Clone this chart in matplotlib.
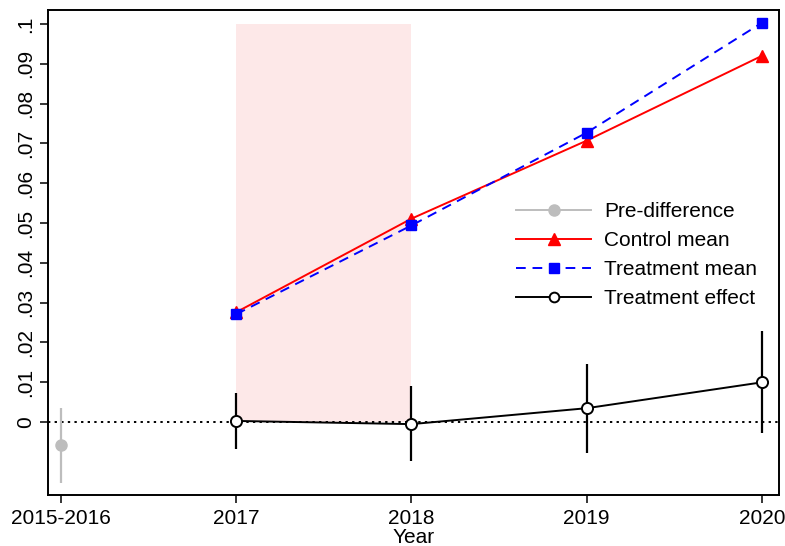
import matplotlib
matplotlib.use("Agg")
import matplotlib.pyplot as plt
from matplotlib.lines import Line2D

plt.rcParams['font.family'] = ['Liberation Sans', 'DejaVu Sans']

# Categories on the x axis
years = ["2015-2016", "2017", "2018", "2019", "2020"]

# Pre-period difference with confidence interval
pre_diff = [-0.0058]
pre_lo = [-0.0153]
pre_hi = [0.0035]

# Group means, 2017-2020
control_mean = [0.0276, 0.0511, 0.0707, 0.0920]
treatment_mean = [0.0271, 0.0494, 0.0727, 0.1003]

# Estimated treatment effect with confidence interval
effect = [0.0003, -0.0005, 0.0035, 0.0100]
effect_lo = [-0.0068, -0.0098, -0.0078, -0.0028]
effect_hi = [0.0073, 0.0090, 0.0145, 0.0230]

yticks = [0, 0.01, 0.02, 0.03, 0.04, 0.05, 0.06, 0.07, 0.08, 0.09, 0.1]
ytick_labels = ["0", ".01", ".02", ".03", ".04", ".05", ".06", ".07", ".08", ".09", ".1"]

fig = plt.figure(figsize=(7.85, 5.46), dpi=100)
ax = fig.add_axes([48 / 785, 1 - 495 / 546, (779 - 48) / 785, (495 - 10) / 546])

pre_x = [0]
post_x = [1, 2, 3, 4]

# Shaded treatment window
ax.fill_between([1, 2], 0, 0.1, color="#fde8e8", linewidth=0, zorder=0)

# Zero reference line
ax.axhline(0, color="black", linestyle=(0, (1.2, 2.2)), linewidth=1.4, zorder=1)

# Pre-difference
ax.vlines(pre_x, pre_lo, pre_hi, color="#bdbdbd", linewidth=1.6, zorder=2)
ax.plot(pre_x, pre_diff, "o", color="#bdbdbd", markersize=8, zorder=3)

# Means
ax.plot(post_x, control_mean, "-^", color="red", linewidth=1.4, markersize=9, zorder=4)
ax.plot(post_x, treatment_mean, "--s", color="blue", linewidth=1.4, markersize=7.5,
        dashes=(5, 3.5), zorder=5)

# Treatment effect
ax.vlines(post_x, effect_lo, effect_hi, color="black", linewidth=1.6, zorder=3)
ax.plot(post_x, effect, "-o", color="black", linewidth=1.4, markersize=8,
        markerfacecolor="white", markeredgewidth=1.4, zorder=6)

ax.set_xlim(-0.074, 4.097)
ax.set_ylim(-0.0183, 0.1035)
ax.set_xticks(range(len(years)))
ax.set_xticklabels(years, fontsize=15)
ax.set_yticks(yticks)
ax.set_yticklabels(ytick_labels, fontsize=15, rotation=90, va="center")
ax.tick_params(axis="both", direction="out", length=6, width=1.1, colors="black")
ax.tick_params(axis="x", pad=4)
ax.set_xlabel("Year", fontsize=15, labelpad=0)
for s in ax.spines.values():
    s.set_linewidth(1.4)

handles = [
    Line2D([], [], color="#bdbdbd", marker="o", markersize=8, linewidth=1.4),
    Line2D([], [], color="red", marker="^", markersize=9, linewidth=1.4),
    Line2D([], [], color="blue", marker="s", markersize=7.5, linewidth=1.4, linestyle="--", dashes=(5, 3.5)),
    Line2D([], [], color="black", marker="o", markersize=7, linewidth=1.4,
           markerfacecolor="white", markeredgewidth=1.4),
]
labels = ["Pre-difference", "Control mean", "Treatment mean", "Treatment effect"]
ax.legend(handles, labels, loc="upper left", bbox_to_anchor=(0.615, 0.642), frameon=False,
          fontsize=15, handlelength=3.6, handletextpad=0.6, labelspacing=0.48)

fig.savefig("out.png", dpi=100)
